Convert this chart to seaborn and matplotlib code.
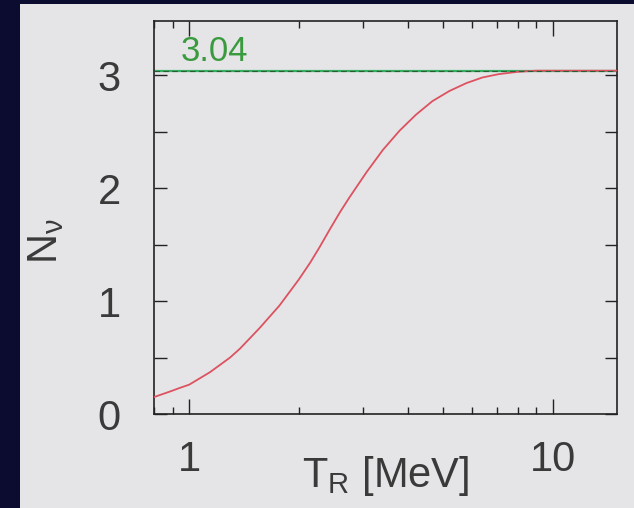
import numpy as np
import pandas as pd
import matplotlib
matplotlib.use('Agg')
import matplotlib.pyplot as plt
import matplotlib.ticker as mticker
from matplotlib.patches import Rectangle
import seaborn as sns

# reheating temperature vs effective number of neutrinos
t_r = [0.80, 0.887, 0.94, 1.0, 1.14, 1.295, 1.38, 1.56, 1.77, 2.0, 2.15, 2.28,
       2.43, 2.60, 2.76, 3.07, 3.41, 3.79, 4.20, 4.66, 5.19, 5.78, 6.40, 7.11,
       8.0, 9.0, 10.0, 15.0]
n_nu = [0.15, 0.20, 0.23, 0.26, 0.37, 0.50, 0.58, 0.76, 0.96, 1.19, 1.34, 1.475,
        1.63, 1.79, 1.92, 2.14, 2.34, 2.51, 2.65, 2.77, 2.86, 2.93, 2.98, 3.01,
        3.03, 3.04, 3.04, 3.04]
n_std = 3.04
n_std_label = '3.04'
x_ticks = [1, 10]
x_ticklabels = ['1', '10']
y_ticks = [0, 1, 2, 3]

df = pd.DataFrame({'T_R': t_r, 'N_nu': n_nu})

sns.set_theme(style='ticks')
plt.rcParams['font.family'] = ['Liberation Sans', 'DejaVu Sans']
plt.rcParams['mathtext.fontset'] = 'custom'
plt.rcParams['mathtext.rm'] = 'Liberation Sans'
plt.rcParams['mathtext.it'] = 'Liberation Sans'

panel = '#e5e5e7'
txt = '#3a3a3a'

fig = plt.figure(figsize=(6.34, 5.08), dpi=100, facecolor='#0b0c30')
# light slide panel behind everything
fig.patches.append(Rectangle((20/634, 0), 1, 1 - 4/508, transform=fig.transFigure,
                             facecolor=panel, edgecolor='none', zorder=-10))

ax = fig.add_axes([154/634, (508-414)/508, 463/634, 393/508])
ax.set_zorder(1)
ax.set_facecolor(panel)

ax.axhline(n_std, color='#35b060', lw=1.6, zorder=2)
ax.axhline(n_std, color='#2d5a3a', lw=0.8, ls=(0, (5, 3)), zorder=4)
sns.lineplot(data=df, x='T_R', y='N_nu', ax=ax, color='#dc5260', lw=1.3, zorder=3)

ax.text(0.945, 3.13, n_std_label, color='#3a9a3e', fontsize=25, va='baseline')

ax.set_xscale('log')
ax.set_xlim(0.8, 15)
ax.set_ylim(0, 3.48)

ax.set_xticks(x_ticks)
ax.set_xticklabels(x_ticklabels)
ax.xaxis.set_minor_locator(mticker.LogLocator(base=10, subs=np.arange(2, 10)))
ax.xaxis.set_minor_formatter(mticker.NullFormatter())
ax.set_yticks(y_ticks)
ax.yaxis.set_minor_locator(mticker.MultipleLocator(0.5))

ax.tick_params(which='both', direction='in', top=True, right=True,
               color='#222222', width=1.0)
ax.tick_params(axis='x', which='major', length=11, pad=19, labelsize=30, labelcolor=txt)
ax.tick_params(axis='x', which='minor', length=5)
ax.tick_params(axis='y', which='major', length=9, pad=24, labelsize=30, labelcolor=txt)
ax.tick_params(axis='y', which='minor', length=9)

for s in ax.spines.values():
    s.set_color('#222222')
    s.set_linewidth(1.2)

ax.set_xlabel(r'T$_\mathrm{R}$ [MeV]', fontsize=30, color=txt, labelpad=-19)
ax.set_ylabel(r'N$_\nu$', fontsize=30, color=txt)
ax.yaxis.set_label_coords(-0.19, 0.44)

fig.savefig('out.png', dpi=100, facecolor=fig.get_facecolor())
